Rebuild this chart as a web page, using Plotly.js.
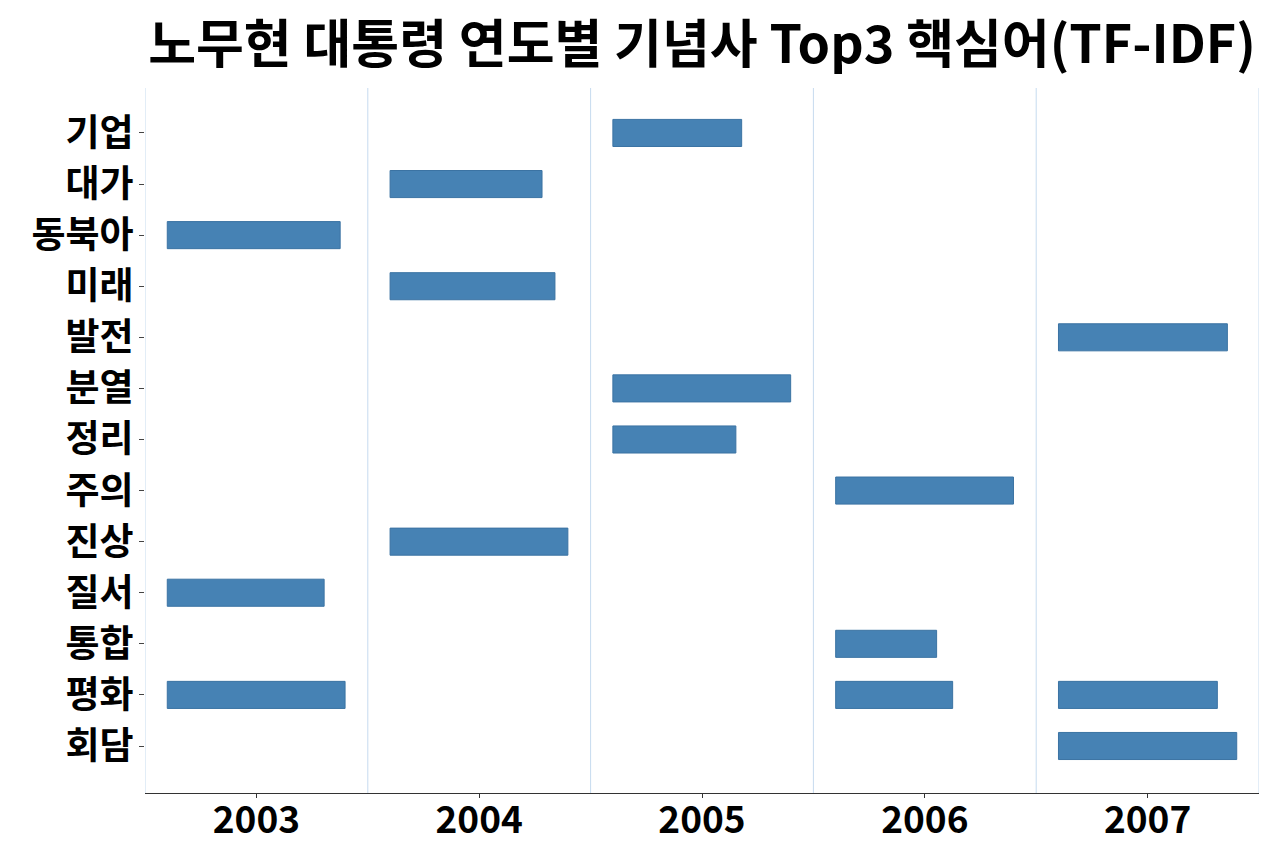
<!DOCTYPE html>
<html>
<head>
<meta charset="utf-8">
<script src="https://cdn.plot.ly/plotly-3.0.1.min.js"></script>
<style>html,body{margin:0;padding:0;background:#fff;}#chart{width:1280px;height:860px;}</style>
</head>
<body>
<div id="chart"></div>
<script>
const categories = ['기업','대가','동북아','미래','발전','분열','정리','주의','진상','질서','통합','평화','회담'];
const years = [2003, 2004, 2005, 2006, 2007];
const keywords2003 = ['동북아','질서','평화'];
const scores2003 = [0.776, 0.704, 0.798];
const keywords2004 = ['대가','미래','진상'];
const scores2004 = [0.682, 0.740, 0.798];
const keywords2005 = ['기업','분열','정리'];
const scores2005 = [0.578, 0.798, 0.552];
const keywords2006 = ['주의','통합','평화'];
const scores2006 = [0.798, 0.453, 0.525];
const keywords2007 = ['발전','평화','회담'];
const scores2007 = [0.758, 0.713, 0.800];

const kw = [keywords2003, keywords2004, keywords2005, keywords2006, keywords2007];
const sc = [scores2003, scores2004, scores2005, scores2006, scores2007];

const FONT = 'Noto Sans CJK KR';
const traces = years.map((yr, i) => ({
  type: 'bar',
  orientation: 'h',
  y: kw[i],
  x: sc[i],
  base: kw[i].map(() => yr - 0.4),
  width: 0.53,
  marker: {color: '#4682B4', line: {color: '#3b73a3', width: 1}},
  showlegend: false,
  hoverinfo: 'skip'
}));

const shapes = years.map(y => y - 0.5).concat([years[years.length-1] + 0.5]).map(v => ({
  type: 'line', xref: 'x', yref: 'paper', x0: v, x1: v, y0: 0, y1: 1,
  line: {color: '#c6dbef', width: 1}, layer: 'below'
}));

const layout = {
  width: 1280, height: 860,
  margin: {l: 145, r: 21, t: 88, b: 67},
  paper_bgcolor: '#fff', plot_bgcolor: '#fff',
  barmode: 'overlay',
  title: {
    text: '노무현 대통령 연도별 기념사 Top3 핵심어(TF-IDF)',
    font: {family: FONT, size: 52, weight: 'bold', color: '#000'},
    x: 0.5, xref: 'paper', xanchor: 'center',
    y: 1 - 45/860, yref: 'container', yanchor: 'middle'
  },
  xaxis: {
    range: [years[0] - 0.5, years[years.length-1] + 0.5],
    tickvals: years, ticktext: years.map(String),
    tickfont: {family: FONT, size: 37, weight: 'bold', color: '#000'},
    ticks: 'outside', ticklen: 4, tickcolor: '#333',
    ticklabelstandoff: -10,
    showgrid: false, zeroline: false,
    showline: true, linecolor: '#333', linewidth: 1.2,
    fixedrange: true
  },
  yaxis: {
    type: 'category',
    categoryorder: 'array', categoryarray: categories,
    range: [12.92, -0.88],
    tickfont: {family: FONT, size: 37, weight: 'bold', color: '#000'},
    ticks: 'outside', ticklen: 5, tickcolor: '#444',
    ticklabelstandoff: -2,
    showgrid: false, zeroline: false, showline: false,
    fixedrange: true
  },
  shapes: shapes
};

Plotly.newPlot('chart', traces, layout, {displayModeBar: false, staticPlot: true});
</script>
</body>
</html>
